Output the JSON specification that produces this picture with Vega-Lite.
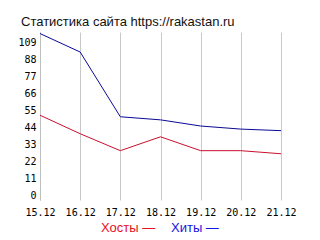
{
  "$schema": "https://vega.github.io/schema/vega-lite/v6.json",
  "width": 241,
  "height": 168,
  "autosize": {"type": "none"},
  "padding": {"left": 40, "top": 32, "right": 39, "bottom": 40},
  "background": "white",
  "title": {
    "text": "Статистика сайта https://rakastan.ru",
    "anchor": "start",
    "frame": "group",
    "dx": -19,
    "offset": 3,
    "font": "Liberation Sans",
    "fontSize": 13,
    "fontWeight": "normal",
    "color": "#111111"
  },
  "data": {
    "values": [
      {"date": "15.12", "series": "Хосты", "value": 55},
      {"date": "16.12", "series": "Хосты", "value": 43},
      {"date": "17.12", "series": "Хосты", "value": 32},
      {"date": "18.12", "series": "Хосты", "value": 41},
      {"date": "19.12", "series": "Хосты", "value": 32},
      {"date": "20.12", "series": "Хосты", "value": 32},
      {"date": "21.12", "series": "Хосты", "value": 30},
      {"date": "15.12", "series": "Хиты", "value": 108},
      {"date": "16.12", "series": "Хиты", "value": 96},
      {"date": "17.12", "series": "Хиты", "value": 54},
      {"date": "18.12", "series": "Хиты", "value": 52},
      {"date": "19.12", "series": "Хиты", "value": 48},
      {"date": "20.12", "series": "Хиты", "value": 46},
      {"date": "21.12", "series": "Хиты", "value": 45}
    ]
  },
  "mark": {"type": "line", "strokeWidth": 1},
  "encoding": {
    "x": {
      "field": "date",
      "type": "ordinal",
      "scale": {"type": "point", "padding": 0},
      "axis": {
        "title": null,
        "labelAngle": 0,
        "domain": false,
        "ticks": false,
        "grid": true,
        "gridColor": "#c8c8c8",
        "gridWidth": 1,
        "labelPadding": 7,
        "labelBaseline": "top",
        "labelFont": "DejaVu Sans Mono",
        "labelFontSize": 10,
        "labelColor": "#000000"
      }
    },
    "y": {
      "field": "value",
      "type": "quantitative",
      "scale": {"domain": [0, 109], "nice": false, "zero": true},
      "axis": {
        "title": null,
        "values": [0, 11, 22, 33, 44, 55, 66, 77, 88, 99],
        "labelExpr": "datum.value == 99 ? '109' : datum.label",
        "grid": false,
        "ticks": false,
        "domain": true,
        "domainColor": "#c0c0c0",
        "domainWidth": 1,
        "labelPadding": 4,
        "labelOffset": -5,
        "labelBaseline": "middle",
        "labelFont": "DejaVu Sans Mono",
        "labelFontSize": 10,
        "labelColor": "#000000",
        "labelOverlap": false,
        "labelFlush": false
      }
    },
    "color": {
      "field": "series",
      "type": "nominal",
      "scale": {"domain": ["Хосты", "Хиты"], "range": ["#c8102e", "#0a0a96"]},
      "legend": {
        "title": null,
        "orient": "none",
        "legendX": 48,
        "legendY": 189,
        "direction": "horizontal",
        "symbolSize": 0,
        "symbolStrokeWidth": 0,
        "symbolOpacity": 0,
        "labelOffset": 0,
        "columnPadding": 2,
        "labelFont": "Liberation Sans",
        "labelFontSize": 13,
        "labelExpr": "datum.label + ' —'",
        "encode": {
          "labels": {
            "update": {
              "fill": {"signal": "datum.value === 'Хосты' ? '#e8101e' : '#1515e0'"}
            }
          }
        }
      }
    }
  },
  "config": {"view": {"stroke": null}}
}
